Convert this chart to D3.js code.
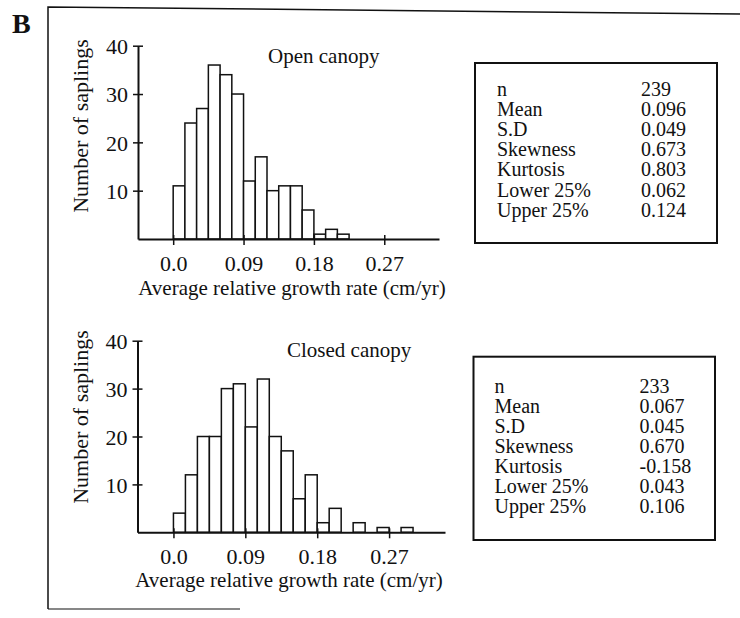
<!DOCTYPE html>
<html>
<head>
<meta charset="utf-8">
<script src="https://cdn.jsdelivr.net/npm/d3@7"></script>
<style>
body { margin: 0; background: #fff; }
svg { display: block; font-family: "Liberation Serif", "Times New Roman", serif; }
</style>
</head>
<body>
<div id="chart"></div>
<script>
// histogram bins (left edge, cm/yr) and sapling counts
const binStarts = [0, 0.015, 0.03, 0.045, 0.06, 0.075, 0.09, 0.105, 0.12, 0.135,
                   0.15, 0.165, 0.18, 0.195, 0.21, 0.225, 0.24, 0.255, 0.27, 0.285];
const binWidth = 0.015;
const openCounts = [11, 24, 27, 36, 34, 30, 12, 17, 10, 11, 11, 6, 1, 2, 1];
const closedCounts = [4, 12, 20, 20, 30, 31, 22, 32, 20, 17, 7, 12, 2, 5, 0, 2, 0, 1, 0, 1];

const xTickValues = [0, 0.09, 0.18, 0.27];
const xTickLabels = ["0.0", "0.09", "0.18", "0.27"];
const yTickValues = [10, 20, 30, 40];

const statNames = ["n", "Mean", "S.D", "Skewness", "Kurtosis", "Lower 25%", "Upper 25%"];
const openStats = ["239", "0.096", "0.049", "0.673", "0.803", "0.062", "0.124"];
const closedStats = ["233", "0.067", "0.045", "0.670", "-0.158", "0.043", "0.106"];

const panelTitles = ["Open canopy", "Closed canopy"];

const width = 740, height = 618;
const ink = "#111";

const svg = d3.select("#chart")
	.append("svg")
	.attr("width", width)
	.attr("height", height)
	.attr("viewBox", `0 0 ${width} ${height}`);

// panel letter and the outer frame
svg.append("text")
	.attr("x", 12).attr("y", 33)
	.attr("font-size", 28).attr("font-weight", "bold")
	.attr("fill", ink)
	.text("B");

svg.append("path")
	.attr("d", "M48,609 V7 L740,14")
	.attr("fill", "none").attr("stroke", ink).attr("stroke-width", 1.5);
svg.append("path")
	.attr("d", "M48,609 H240")
	.attr("fill", "none").attr("stroke", ink).attr("stroke-width", 1.2);

const panels = [
	{title: panelTitles[0], counts: openCounts, stats: openStats,
	 x0: 138, x1: 439, base: 239, top: 45.7,
	 titleX: 268, titleY: 63, yLabelY: 126, xLabelX: 292, xLabelY: 295,
	 box: {x: 475, y: 63, w: 242, h: 180}, nameX: 497, valX: 641, firstRow: 96},
	{title: panelTitles[1], counts: closedCounts, stats: closedStats,
	 x0: 137.5, x1: 445, base: 532.3, top: 340.7,
	 titleX: 287, titleY: 357, yLabelY: 417, xLabelX: 289, xLabelY: 587,
	 box: {x: 473.5, y: 356.7, w: 241.5, h: 183.3}, nameX: 494.5, valX: 639.5, firstRow: 392.7}
];

panels.forEach(p => {
	const g = svg.append("g");

	const x = d3.scaleLinear().domain([-0.045, 0.34]).range([p.x0, p.x1]);
	const y = d3.scaleLinear().domain([0, 40]).range([p.base, p.top]);

	const bins = p.counts
		.map((c, i) => ({start: binStarts[i], count: c}))
		.filter(d => d.count > 0);

	g.selectAll("rect.bar")
		.data(bins)
		.enter()
		.append("rect")
		.attr("class", "bar")
		.attr("x", d => x(d.start))
		.attr("width", d => x(d.start + binWidth) - x(d.start))
		.attr("y", d => y(d.count))
		.attr("height", d => y(0) - y(d.count))
		.attr("fill", "#fff")
		.attr("stroke", ink)
		.attr("stroke-width", 1.5);

	// x axis, ticks cross the line
	const xAxis = g.append("g")
		.attr("transform", `translate(0,${p.base})`)
		.call(d3.axisBottom(x)
			.tickValues(xTickValues)
			.tickFormat((d, i) => xTickLabels[i])
			.tickSizeInner(6)
			.tickSizeOuter(0));
	xAxis.attr("font-family", null).attr("font-size", null);
	xAxis.select(".domain").attr("stroke", ink).attr("stroke-width", 2);
	xAxis.selectAll(".tick line").attr("y1", -4).attr("stroke", ink).attr("stroke-width", 1.5);
	xAxis.selectAll(".tick text")
		.attr("y", 32).attr("dy", 0)
		.attr("font-size", 22).attr("fill", ink);

	// y axis
	const yAxis = g.append("g")
		.attr("transform", `translate(${p.x0},0)`)
		.call(d3.axisLeft(y)
			.tickValues(yTickValues)
			.tickSizeInner(5)
			.tickSizeOuter(0));
	yAxis.attr("font-family", null).attr("font-size", null);
	yAxis.select(".domain").attr("stroke", ink).attr("stroke-width", 2);
	yAxis.selectAll(".tick line").attr("x1", 5).attr("stroke", ink).attr("stroke-width", 1.5);
	yAxis.selectAll(".tick text")
		.attr("x", -10).attr("dy", "0.36em")
		.attr("font-size", 22).attr("fill", ink);

	g.append("text")
		.attr("transform", `translate(88,${p.yLabelY}) rotate(-90)`)
		.attr("text-anchor", "middle")
		.attr("font-size", 22).attr("fill", ink)
		.text("Number of saplings");

	g.append("text")
		.attr("x", p.xLabelX).attr("y", p.xLabelY)
		.attr("text-anchor", "middle")
		.attr("font-size", 21).attr("fill", ink)
		.text("Average relative growth rate (cm/yr)");

	g.append("text")
		.attr("x", p.titleX).attr("y", p.titleY)
		.attr("font-size", 21).attr("fill", ink)
		.text(p.title);

	// summary statistics box
	g.append("rect")
		.attr("x", p.box.x).attr("y", p.box.y)
		.attr("width", p.box.w).attr("height", p.box.h)
		.attr("fill", "none").attr("stroke", ink).attr("stroke-width", 2);

	const rowStep = 20.1;
	g.selectAll("text.name")
		.data(statNames)
		.enter()
		.append("text")
		.attr("class", "name")
		.attr("x", p.nameX)
		.attr("y", (d, i) => p.firstRow + i * rowStep)
		.attr("font-size", 20).attr("fill", ink)
		.text(d => d);

	g.selectAll("text.val")
		.data(p.stats)
		.enter()
		.append("text")
		.attr("class", "val")
		.attr("x", p.valX)
		.attr("y", (d, i) => p.firstRow + i * rowStep)
		.attr("font-size", 20).attr("fill", ink)
		.text(d => d);
});
</script>
</body>
</html>
